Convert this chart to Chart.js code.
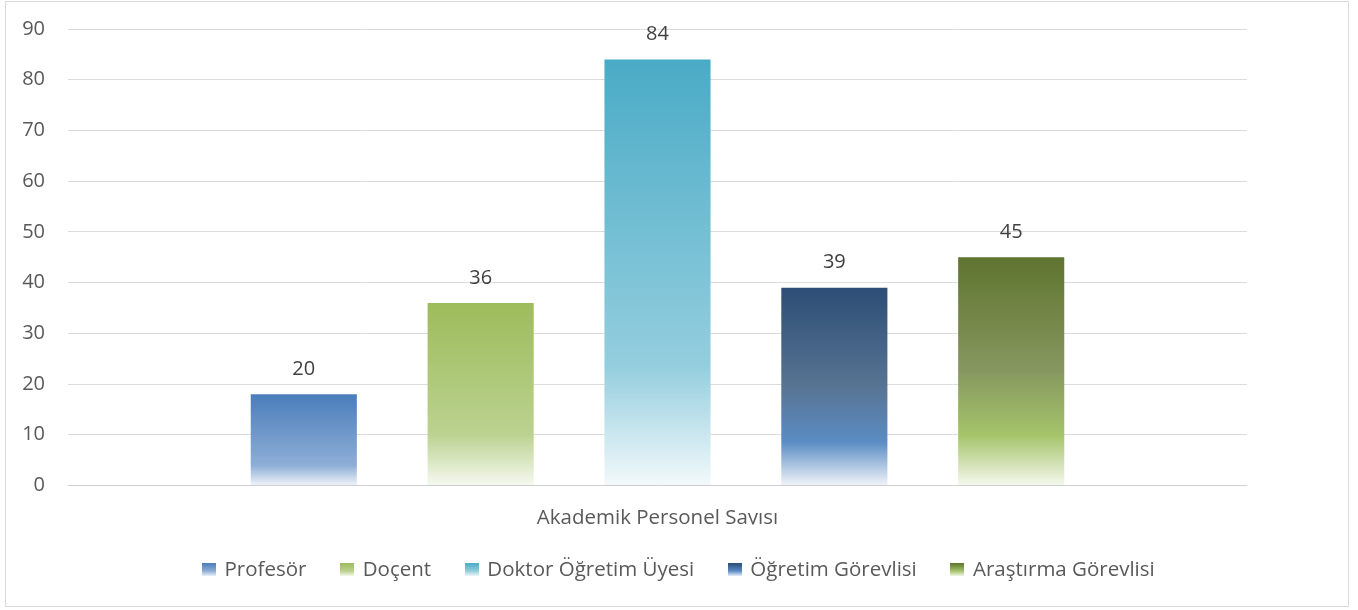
<!DOCTYPE html>
<html>
<head>
<meta charset="utf-8">
<script src="https://cdn.jsdelivr.net/npm/chart.js@4.4.1/dist/chart.umd.min.js"></script>
<style>
  html, body { margin: 0; padding: 0; background: #ffffff; }
  #wrap { position: relative; width: 1358px; height: 610px; }
  #frame { position: absolute; left: 5px; top: 1px; width: 1342px; height: 604px; border: 1px solid #d9d9d9; pointer-events: none; }
  canvas { position: absolute; left: 0; top: 0; }
</style>
</head>
<body>
<div id="wrap">
  <canvas id="c" width="1358" height="610"></canvas>
  <div id="frame"></div>
</div>
<script>
// ---- data ----
const categories = ["Akademik Personel Sayısı"];
const seriesNames = ["Profesör", "Doçent", "Doktor Öğretim Üyesi", "Öğretim Görevlisi", "Araştırma Görevlisi"];
const seriesValues = [18, 36, 84, 39, 45];           // bar heights as drawn
const valueLabels = ["20", "36", "84", "39", "45"];  // data label texts as printed
const yTicks = [0, 10, 20, 30, 40, 50, 60, 70, 80, 90];

// ---- styles ----
const gradientStops = [
  [[0, '#4a7dbb'], [0.78, '#8eaed6'], [1, '#f0f4fa']],
  [[0, '#9dbc5b'], [0.72, '#bbd290'], [1, '#f6f9f0']],
  [[0, '#4aabc6'], [0.72, '#94cede'], [1, '#f3f9fb']],
  [[0, '#2c4d75'], [0.5, '#587493'], [0.78, '#5b8cc4'], [1, '#f0f4fa']],
  [[0, '#5f742f'], [0.5, '#86985f'], [0.78, '#a5c46a'], [1, '#f5f8ee']]
];
const FONT = "'Open Sans', 'DejaVu Sans', sans-serif";

function makeMarker(stops) {
  const cv = document.createElement('canvas');
  cv.width = 14; cv.height = 13;
  const g = cv.getContext('2d');
  const gr = g.createLinearGradient(0, 0, 0, 13);
  gr.addColorStop(0, stops[0][1]);
  gr.addColorStop(0.6, stops[Math.max(1, stops.length - 2)][1]);
  gr.addColorStop(1, stops[stops.length - 1][1]);
  g.fillStyle = gr;
  g.fillRect(0, 0, 14, 13);
  return cv;
}
const markers = gradientStops.map(makeMarker);

function barGradient(ctx, i) {
  const chart = ctx.chart;
  const area = chart.chartArea;
  if (!area) return gradientStops[i][0][1];
  const y = chart.scales.y;
  const top = y.getPixelForValue(seriesValues[i]);
  const base = y.getPixelForValue(0);
  const gr = chart.ctx.createLinearGradient(0, top, 0, base);
  gradientStops[i].forEach(s => gr.addColorStop(s[0], s[1]));
  return gr;
}

const datasets = seriesNames.map((name, i) => ({
  label: name,
  data: [seriesValues[i]],
  backgroundColor: (ctx) => barGradient(ctx, i),
  borderWidth: 0,
  categoryPercentage: 0.75,
  barPercentage: 0.6
}));

const dataLabelPlugin = {
  id: 'dataLabels',
  afterDatasetsDraw(chart) {
    const c = chart.ctx;
    c.save();
    c.font = "20px " + FONT;
    c.fillStyle = '#404040';
    c.textAlign = 'center';
    c.textBaseline = 'middle';
    chart.data.datasets.forEach((ds, i) => {
      const meta = chart.getDatasetMeta(i);
      meta.data.forEach((el) => {
        c.fillText(valueLabels[i], el.x, el.y - 25);
      });
    });
    c.restore();
  }
};

new Chart(document.getElementById('c'), {
  type: 'bar',
  data: { labels: categories, datasets },
  options: {
    responsive: false,
    animation: false,
    layout: { padding: { left: 0, right: 0, top: 29, bottom: 20 } },
    scales: {
      x: {
        grid: { display: false, drawTicks: false },
        border: { display: false },
        ticks: { color: '#595959', font: { family: FONT, size: 20.5 }, padding: 20 },
        afterFit(scale) { scale.height = 39; }
      },
      y: {
        min: 0, max: 90,
        afterBuildTicks(scale) { scale.ticks = yTicks.map(v => ({ value: v })); },
        grid: {
          color: (ctx) => ctx.tick && ctx.tick.value === 0 ? '#cfcfcf' : '#dcdcdc',
          lineWidth: 1,
          drawTicks: false
        },
        border: { display: false },
        ticks: { color: '#595959', font: { family: FONT, size: 20 }, padding: 23 },
        afterFit(scale) { scale.width = 68; scale.paddingTop = 0; scale.paddingBottom = 0; }
      },
      yr: {
        position: 'right',
        display: true,
        grid: { display: false, drawTicks: false },
        border: { display: false },
        ticks: { display: false },
        afterFit(scale) { scale.width = 111; scale.paddingTop = 0; scale.paddingBottom = 0; }
      }
    },
    plugins: {
      legend: {
        position: 'bottom',
        labels: {
          color: '#595959',
          font: { family: FONT, size: 20.5 },
          usePointStyle: true,
          pointStyleWidth: 11,
          boxHeight: 14,
          padding: 35,
          generateLabels(chart) {
            const items = Chart.defaults.plugins.legend.labels.generateLabels(chart);
            items.forEach((it, i) => { it.pointStyle = markers[i]; it.fontColor = '#595959'; });
            return items;
          }
        }
      },
      tooltip: { enabled: false }
    }
  },
  plugins: [dataLabelPlugin]
});
</script>
</body>
</html>
